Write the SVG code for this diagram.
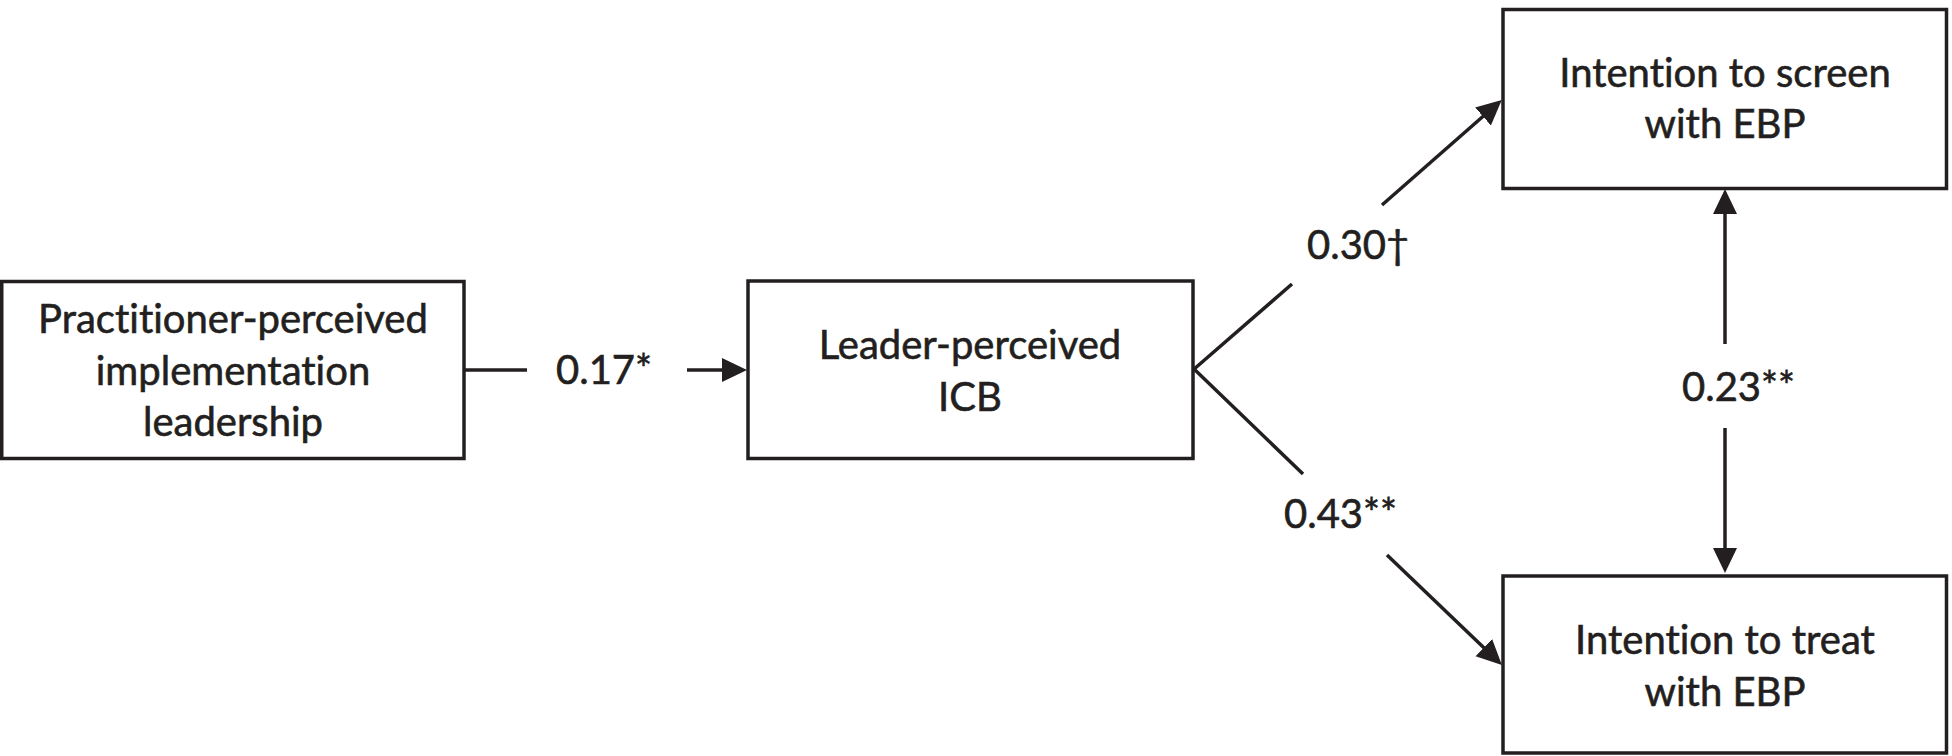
<svg xmlns="http://www.w3.org/2000/svg" width="1952" height="756" viewBox="0 0 1952 756">
<style>
  .box { fill: #ffffff; stroke: #231f20; stroke-width: 3.5; }
  .lbl { font-family: Lato, "Open Sans", "Liberation Sans", sans-serif; font-size: 40px; fill: #231f20; stroke: #231f20; stroke-width: 0.6; text-anchor: middle; font-variant-ligatures: none; }
  .num { font-family: Lato, "Open Sans", "Liberation Sans", sans-serif; font-size: 40px; fill: #231f20; stroke: #231f20; stroke-width: 0.6; font-variant-ligatures: none; }
  .edge { stroke: #231f20; stroke-width: 3.5; fill: none; }
</style>
<defs>
  <marker id="arrow" markerUnits="userSpaceOnUse" markerWidth="26" markerHeight="26" refX="12" refY="12.5" orient="auto">
    <path d="M0,0.5 L25,12.5 L0,24.5 z" fill="#231f20"/>
  </marker>
</defs>
<rect width="1952" height="756" fill="#ffffff"/>

<g id="node-practitioner">
  <rect class="box" x="1.75" y="281.5" width="462.25" height="177"/>
  <text class="lbl" x="233" y="333">Practitioner-perceived</text>
  <text class="lbl" x="233" y="385">implementation</text>
  <text class="lbl" x="233" y="436">leadership</text>
</g>

<g id="node-leader">
  <rect class="box" x="748" y="281" width="445" height="177.5"/>
  <text class="lbl" x="970" y="359">Leader-perceived</text>
  <text class="lbl" x="970" y="411">ICB</text>
</g>

<g id="node-screen">
  <rect class="box" x="1503" y="9.5" width="443.5" height="179"/>
  <text class="lbl" x="1725" y="87">Intention to screen</text>
  <text class="lbl" x="1725" y="138">with EBP</text>
</g>

<g id="node-treat">
  <rect class="box" x="1503" y="576" width="443.5" height="177"/>
  <text class="lbl" x="1725" y="654">Intention to treat</text>
  <text class="lbl" x="1725" y="706">with EBP</text>
</g>

<g id="connectors">
  <line class="edge" x1="464" y1="370" x2="527" y2="370"/>
  <line class="edge" x1="687" y1="370" x2="734" y2="370" marker-end="url(#arrow)"/>
  <text class="num" x="556" y="384">0.17*</text>

  <line class="edge" x1="1193" y1="370" x2="1292" y2="284"/>
  <line class="edge" x1="1382" y1="205" x2="1492" y2="108.5" marker-end="url(#arrow)"/>
  <text class="num" x="1307" y="259">0.30†</text>

  <line class="edge" x1="1193" y1="368" x2="1303" y2="474"/>
  <line class="edge" x1="1387" y1="555" x2="1492.5" y2="656" marker-end="url(#arrow)"/>
  <text class="num" x="1284" y="528">0.43**</text>

  <line class="edge" x1="1725" y1="344" x2="1725" y2="202" marker-end="url(#arrow)"/>
  <line class="edge" x1="1725" y1="428" x2="1725" y2="560" marker-end="url(#arrow)"/>
  <text class="num" x="1682" y="401">0.23**</text>
</g>
</svg>
